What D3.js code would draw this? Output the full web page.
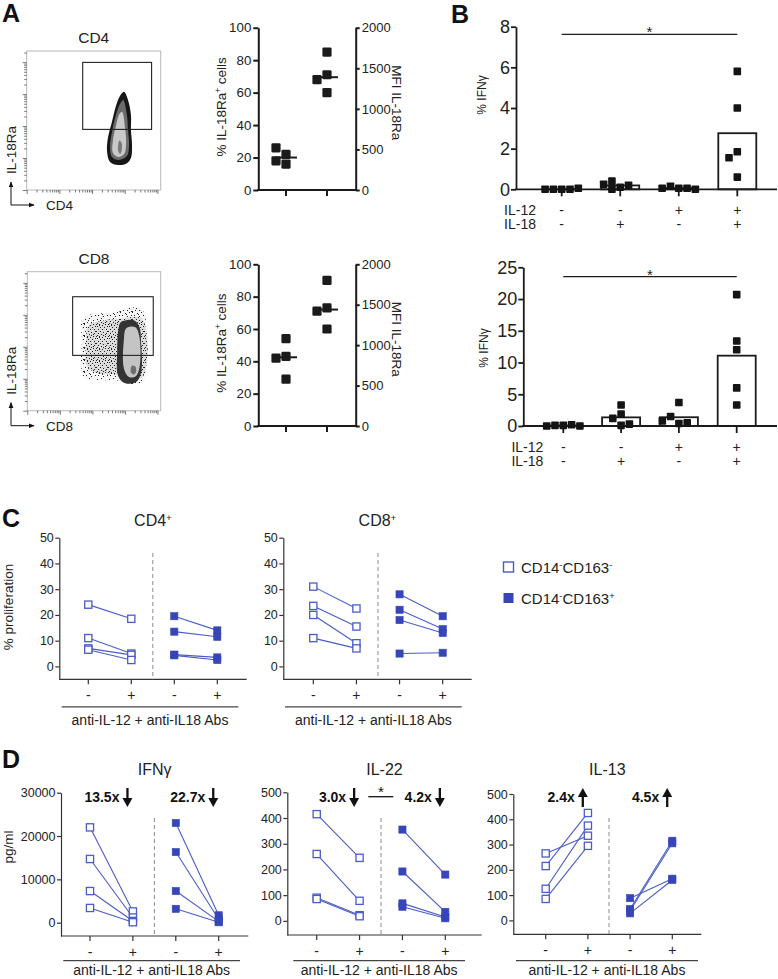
<!DOCTYPE html>
<html><head><meta charset="utf-8">
<script src="https://cdn.jsdelivr.net/npm/d3@7/dist/d3.min.js"></script>
<style>html,body{margin:0;padding:0;background:#fff}svg{display:block}</style>
</head><body>
<svg id="fig" width="778" height="979" xmlns="http://www.w3.org/2000/svg"></svg>
<script>
// ================= DATA =================
// Panel A – flow cytometry contours (axis units: decades 0..5)
const flowCD4Gate  = [2.09, 4.66, 2.18, 4.59];
const flowCD4Outer = [[3.63,3.53],[3.78,3.24],[3.89,2.70],[3.89,2.16],[3.93,1.62],[3.89,1.15],[3.71,0.94],[3.41,0.90],[3.11,1.01],[3.00,1.37],[3.03,1.87],[3.18,2.45],[3.33,3.02],[3.48,3.38]];
const flowCD4Mid   = [[3.60,3.24],[3.74,2.70],[3.78,2.16],[3.82,1.62],[3.74,1.22],[3.44,1.08],[3.18,1.19],[3.11,1.55],[3.18,2.09],[3.33,2.70],[3.48,3.09]];
const flowCD4Inner = [[3.56,2.81],[3.67,2.23],[3.71,1.62],[3.63,1.29],[3.41,1.19],[3.22,1.33],[3.22,1.80],[3.33,2.30],[3.44,2.70]];
const flowCD4Core  = [[3.46,1.78],[3.54,1.70],[3.55,1.45],[3.49,1.30],[3.42,1.38],[3.41,1.60]];
const flowCD8Gate  = [1.70, 4.72, 1.99, 4.10];
const flowCD8Cloud = [[2.05,3.26],[2.42,3.48],[2.91,3.51],[3.40,3.55],[3.77,3.70],[4.22,3.69],[4.41,3.44],[4.44,2.54],[4.44,1.47],[4.33,1.04],[3.85,0.96],[3.28,1.10],[2.72,1.10],[2.16,1.18],[2.01,1.64],[2.05,2.54]];
const flowCD8Dense = [[2.30,3.05],[2.90,3.25],[3.45,3.30],[4.30,3.30],[4.30,1.20],[3.30,1.30],[2.60,1.35],[2.25,1.60],[2.20,2.40]];
const flowCD8Outer = [[3.51,3.19],[3.97,3.26],[4.19,3.04],[4.27,2.36],[4.27,1.39],[4.08,1.03],[3.67,0.99],[3.41,1.24],[3.37,2.18],[3.41,2.90]];
const flowCD8Inner = [[3.71,2.97],[4.04,3.01],[4.19,2.72],[4.22,1.64],[4.07,1.24],[3.81,1.21],[3.62,1.53],[3.62,2.54]];
const flowCD8Core  = [[3.92,1.62],[4.04,1.60],[4.08,1.40],[3.98,1.30],[3.88,1.38]];

// Panel A – % IL-18Ra+ cells (left axis) / MFI (right axis)
const aCats = ["pct","mfi"];
const aCD4Pct = [22, 16, 26, 18];
const aCD4Mfi = [85, 71, 68, 60];
const aCD8Pct = [54, 43, 42, 29];
const aCD8Mfi = [90, 73, 71, 60];
const aLeftTicks  = [0, 20, 40, 60, 80, 100];
const aRightTicks = [0, 500, 1000, 1500, 2000];

// Panel B – % IFNγ
const bConds = ["c1","c2","c3","c4"];
const bIL12 = ["-","-","+","+"];
const bIL18 = ["-","+","-","+"];
const bTopVals = [[0,0,0,0,0.05],[0.1,0.4,0.2,0.25,0],[0.05,0.15,0.05,0.05,0],[5.8,4.0,1.85,1.55,0.6]];
const bBotVals = [[0.1,0.1,0.2,0,0],[0.1,3.3,1.2,1.9,0.3],[0.4,1.5,3.7,0.5,0.8],[20.7,13.4,12.0,6.0,3.3]];
const bTopTicks = [0, 2, 4, 6, 8];
const bBotTicks = [0, 5, 10, 15, 20, 25];

// Panel C – % proliferation
const cSigns = ["-","+","-","+"];
const cTicks = [0, 10, 20, 30, 40, 50];
const cCD4NegPre = [24, 11, 7, 6.5],   cCD4NegPost = [18.5, 5, 4.5, 2.5];
const cCD4PosPre = [19.5, 13.5, 4.6, 4.3], cCD4PosPost = [14, 11.5, 3.5, 2.5];
const cCD8NegPre = [31, 23.5, 20, 11], cCD8NegPost = [22.5, 15.5, 9, 7];
const cCD8PosPre = [28, 22, 18, 5],    cCD8PosPost = [19.5, 14.5, 13, 5.3];
const legendLabels = [["CD14","-","CD163","-"], ["CD14","-","CD163","+"]];

// Panel D – cytokines pg/ml
const dIFNgTicks = [0, 10000, 20000, 30000];
const dIL22Ticks = [0, 100, 200, 300, 400, 500];
const dIL13Ticks = [0, 100, 200, 300, 400, 500];
const dIFNgNegPre = [22000, 14700, 7300, 3400], dIFNgNegPost = [2600, 1200, 400, 100];
const dIFNgPosPre = [23000, 16300, 7300, 3200], dIFNgPosPost = [1700, 800, 300, 100];
const dIL22NegPre = [415, 260, 90, 85],  dIL22NegPost = [245, 78, 22, 18];
const dIL22PosPre = [355, 192, 68, 55],  dIL22PosPost = [180, 35, 15, 10];
const dIL13NegPre = [265, 215, 125, 85], dIL13NegPost = [335, 425, 375, 295];
const dIL13PosPre = [88, 45, 38, 28],    dIL13PosPost = [165, 315, 305, 160];
const dIFNgFolds = ["13.5x","22.7x"], dIFNgDir = ["down","down"];
const dIL22Folds = ["3.0x","4.2x"],   dIL22Dir = ["down","down"];
const dIL13Folds = ["2.4x","4.5x"],   dIL13Dir = ["up","up"];

// ================= DRAWING =================
const FONT = '"Liberation Sans", Arial, Helvetica, sans-serif';
const INK = "#1b1b1b", TXT = "#222", BLUE = "#3646b8", BLUE_L = "#4a5cc9";
const fmt = d3.format("d");
const svg = d3.select("#fig").attr("font-family", FONT);

const defs = svg.append("defs");
defs.append("marker").attr("id","arr").attr("viewBox","0 0 10 10").attr("refX",9).attr("refY",5)
  .attr("markerWidth",6).attr("markerHeight",6).attr("orient","auto")
  .append("path").attr("d","M0,1 L10,5 L0,9 z").attr("fill","#111");
function stipple(id, bg, dots, w) {
  const p = defs.append("pattern").attr("id", id).attr("patternUnits","userSpaceOnUse").attr("width",w).attr("height",w);
  p.append("rect").attr("width",w).attr("height",w).attr("fill",bg);
  dots.forEach(d => p.append("rect").attr("x",d[0]).attr("y",d[1]).attr("width",1).attr("height",1).attr("fill","#262626"));
}
stipple("stipA", "#f4f4f4", [[0,0],[5,1],[9,0],[2,3],[7,4],[11,3],[1,7],[5,6],[9,8],[3,10],[7,10],[11,11],[0,11],[6,2],[4,8]], 12);
stipple("stipB", "#dcdcdc", [[0,0],[3,0],[6,1],[9,0],[1,2],[4,3],[8,3],[11,2],[2,5],[6,5],[10,5],[0,7],[4,7],[7,8],[11,7],[2,9],[5,10],[9,10],[1,11],[7,11],[10,9],[3,1]], 12);

function text(g, x, y, s, o = {}) {
  return g.append("text").attr("x", x).attr("y", y).text(s)
    .attr("font-size", o.size || 13).attr("fill", o.fill || TXT)
    .attr("text-anchor", o.anchor || "start").attr("font-weight", o.weight || "normal");
}
function richText(g, parts, o) {
  const t = g.append("text").attr("font-size", o.size).attr("fill", TXT).attr("text-anchor", o.anchor || "start");
  if (o.transform) t.attr("transform", o.transform); else t.attr("x", o.x).attr("y", o.y);
  parts.forEach(([s, sup]) => {
    const ts = t.append("tspan").text(s);
    if (sup) ts.attr("baseline-shift", "super").attr("font-size", "0.62em");
  });
  return t;
}
function swarm(vals, y, size, step) {
  const placed = [];
  return vals.map(v => {
    const py = y(v);
    const offs = [0];
    for (let k = 1; k < 7; k++) offs.push(-k * step, k * step);
    for (const o of offs) {
      if (!placed.some(p => Math.abs(p.dx - o) < size && Math.abs(p.py - py) < size)) {
        placed.push({dx: o, py}); return {v, dx: o, py};
      }
    }
    return {v, dx: 0, py};
  });
}
function styleAxis(a, color, w, fs) {
  a.attr("font-family", FONT).attr("font-size", fs);
  a.selectAll(".domain").attr("stroke", color).attr("stroke-width", w);
  a.selectAll(".tick line").attr("stroke", color).attr("stroke-width", w);
  a.selectAll(".tick text").attr("fill", TXT);
}

// Panel letters
[["A",2,22],["B",451,23],["C",2,527],["D",2,768]].forEach(([s,x,y]) =>
  text(svg, x, y, s, {size: 25, weight: "bold", fill: "#111"}));

// ---------- Panel A flow plots ----------
function flowPlot(o) {
  const g = svg.append("g");
  const xs = d3.scaleLinear().domain([0,5]).range([o.x0, o.x1]);
  const ys = d3.scaleLinear().domain([0,5]).range([o.y1, o.y0]);
  const line = d3.line().x(d => xs(d[0])).y(d => ys(d[1])).curve(d3.curveCatmullRomClosed);
  o.layers.forEach(l => g.append("path").attr("d", line(l.pts)).attr("fill", l.fill));
  g.append("rect").attr("x", xs(o.gate[0])).attr("y", ys(o.gate[3]))
    .attr("width", xs(o.gate[1]) - xs(o.gate[0])).attr("height", ys(o.gate[2]) - ys(o.gate[3]))
    .attr("fill","none").attr("stroke","#222").attr("stroke-width",1.1);
  g.append("rect").attr("x", o.x0).attr("y", o.y0).attr("width", o.x1 - o.x0).attr("height", o.y1 - o.y0)
    .attr("fill","none").attr("stroke","#b8b8b8").attr("stroke-width",1);
  const ly = d3.scaleLog().domain([1, Math.pow(10,4.35)]).range([o.y1, o.y0]);
  const lx = d3.scaleLog().domain([1, Math.pow(10,4.1)]).range([o.x0, o.x1]);
  const p10 = d => Math.abs(Math.log10(d) - Math.round(Math.log10(d))) < 1e-6;
  const ay = g.append("g").attr("transform", `translate(${o.x0},0)`)
    .call(d3.axisLeft(ly).tickSize(2.5).tickFormat("").tickSizeOuter(0));
  ay.select(".domain").remove();
  ay.selectAll(".tick line").attr("stroke","#555").attr("stroke-width",0.8).attr("x2", d => p10(d) ? -4 : -2.5);
  const ax = g.append("g").attr("transform", `translate(0,${o.y1})`)
    .call(d3.axisBottom(lx).tickSize(2.5).tickFormat("").tickSizeOuter(0));
  ax.select(".domain").remove();
  ax.selectAll(".tick line").attr("stroke","#555").attr("stroke-width",0.8).attr("y2", d => p10(d) ? 4 : 2.5);
  text(g, (o.x0 + o.x1) / 2, o.y0 - 8, o.title, {size: 15.5, anchor: "middle"});
  const ay0 = o.y1 + 15;
  g.append("line").attr("x1", 11).attr("y1", ay0).attr("x2", 11).attr("y2", ay0 - 23)
    .attr("stroke","#111").attr("stroke-width",1).attr("marker-end","url(#arr)");
  g.append("line").attr("x1", 11).attr("y1", ay0).attr("x2", 34).attr("y2", ay0)
    .attr("stroke","#111").attr("stroke-width",1).attr("marker-end","url(#arr)");
  g.append("text").attr("transform", `translate(16,${o.y1 - 40}) rotate(-90)`).attr("text-anchor","middle")
    .attr("font-size",13.5).attr("fill",TXT).text("IL-18Ra");
  text(g, 46, ay0 + 5, o.xlab, {size: 13.5});
}
flowPlot({x0: 26.7, x1: 160.7, y0: 51, y1: 190, title: "CD4", xlab: "CD4", gate: flowCD4Gate,
  layers: [{pts: flowCD4Outer, fill: "#161616"}, {pts: flowCD4Mid, fill: "#6b6b6b"},
           {pts: flowCD4Inner, fill: "#c9c9c9"}, {pts: flowCD4Core, fill: "#7a7a7a"}]});
flowPlot({x0: 27.3, x1: 160.7, y0: 271.7, y1: 410.7, title: "CD8", xlab: "CD8", gate: flowCD8Gate,
  layers: [{pts: flowCD8Cloud, fill: "url(#stipA)"}, {pts: flowCD8Dense, fill: "url(#stipB)"},
           {pts: flowCD8Outer, fill: "#333"}, {pts: flowCD8Inner, fill: "#c4c4c4"}, {pts: flowCD8Core, fill: "#6e6e6e"}]});

// ---------- Panel A scatter ----------
function scatterA(o) {
  const g = svg.append("g");
  const xL = 258.3, xR = 355.7;
  const yL = d3.scaleLinear().domain([0,100]).range([o.yBot, o.yTop]);
  const yR = d3.scaleLinear().domain([0,2000]).range([o.yBot, o.yTop]);
  const x = d3.scalePoint().domain(aCats).range([286, 327]);
  const al = g.append("g").attr("transform", `translate(${xL},0)`)
    .call(d3.axisLeft(yL).tickValues(aLeftTicks).tickFormat(fmt).tickSize(5).tickPadding(2).tickSizeOuter(0));
  styleAxis(al, INK, 2, 13.3);
  const ar = g.append("g").attr("transform", `translate(${xR},0)`)
    .call(d3.axisRight(yR).tickValues(aRightTicks).tickFormat(fmt).tickSize(4).tickPadding(2).tickSizeOuter(0));
  styleAxis(ar, INK, 2, 13);
  g.append("line").attr("x1", xL - 1).attr("x2", xR + 1).attr("y1", o.yBot).attr("y2", o.yBot)
    .attr("stroke", INK).attr("stroke-width", 2);
  aCats.forEach(c => g.append("line").attr("x1", x(c)).attr("x2", x(c)).attr("y1", o.yBot).attr("y2", o.yBot + 6)
    .attr("stroke", INK).attr("stroke-width", 2));
  o.groups.forEach((vals, i) => {
    const cx = x(aCats[i]);
    const med = d3.median(vals);
    swarm(vals, yL, 9.5, 10).forEach(p => g.append("rect").attr("x", cx + p.dx - 4.6).attr("y", p.py - 4.6)
      .attr("width", 9.2).attr("height", 9.2).attr("rx", 1.3).attr("fill", INK));
    g.append("line").attr("x1", cx - 11).attr("x2", cx + 11).attr("y1", yL(med)).attr("y2", yL(med))
      .attr("stroke", INK).attr("stroke-width", 2);
  });
  richText(g, [["% IL-18Ra"],["+",1],[" cells"]], {size: 13.5, anchor: "middle",
    transform: `translate(226,${(o.yBot + o.yTop) / 2 - 2}) rotate(-90)`});
  g.append("text").attr("transform", `translate(392,${(o.yBot + o.yTop) / 2 - 6}) rotate(90)`)
    .attr("text-anchor","middle").attr("font-size",13.5).attr("fill",TXT).text("MFI  IL-18Ra");
}
scatterA({yTop: 27.7, yBot: 190, groups: [aCD4Pct, aCD4Mfi]});
scatterA({yTop: 264.3, yBot: 426, groups: [aCD8Pct, aCD8Mfi]});

// ---------- Panel B ----------
function barPanel(o) {
  const g = svg.append("g");
  const y = d3.scaleLinear().domain([0, o.max]).range([o.axisY, o.yTop]);
  const x = d3.scalePoint().domain(bConds).range([o.c0, o.c1]);
  const ya = g.append("g").attr("transform", `translate(${o.axisX},0)`)
    .call(d3.axisLeft(y).tickValues(o.ticks).tickFormat(fmt).tickSize(5).tickPadding(1).tickSizeOuter(0));
  styleAxis(ya, INK, 1.8, 18);
  o.vals.forEach((vals, i) => {
    const m = d3.mean(vals);
    g.append("rect").attr("x", x(bConds[i]) - 19).attr("y", y(m)).attr("width", 38).attr("height", o.axisY - y(m))
      .attr("fill", "#fff").attr("stroke", INK).attr("stroke-width", 1.8);
  });
  g.append("line").attr("x1", o.axisX - 1).attr("x2", o.xEnd).attr("y1", o.axisY).attr("y2", o.axisY)
    .attr("stroke", INK).attr("stroke-width", 1.8);
  bConds.forEach(c => g.append("line").attr("x1", x(c)).attr("x2", x(c)).attr("y1", o.axisY).attr("y2", o.axisY + 7)
    .attr("stroke", INK).attr("stroke-width", 1.8));
  o.vals.forEach((vals, i) => {
    swarm(vals, y, 7.6, 8.3).forEach(p => g.append("rect").attr("x", x(bConds[i]) + p.dx - 3.8).attr("y", p.py - 3.8)
      .attr("width", 7.6).attr("height", 7.6).attr("rx", 0.8).attr("fill", "#141414"));
  });
  g.append("line").attr("x1", x(bConds[0])).attr("x2", x(bConds[3])).attr("y1", o.sigY).attr("y2", o.sigY)
    .attr("stroke", INK).attr("stroke-width", 1.3);
  text(g, (x(bConds[0]) + x(bConds[3])) / 2, o.sigY + 3, "*", {size: 15, anchor: "middle"});
  text(g, o.axisX + 20, o.axisY + 25.5, "IL-12", {size: 14, anchor: "end"});
  text(g, o.axisX + 20, o.axisY + 40, "IL-18", {size: 14, anchor: "end"});
  bConds.forEach((c, i) => {
    text(g, x(c), o.axisY + 25.5, bIL12[i], {size: 14, anchor: "middle"});
    text(g, x(c), o.axisY + 40, bIL18[i], {size: 14, anchor: "middle"});
  });
  g.append("text").attr("transform", `translate(${o.labX},${o.labY}) rotate(-90)`).attr("text-anchor","middle")
    .attr("font-size",12).attr("fill",TXT).text("% IFNγ");
}
barPanel({axisX: 516, xEnd: 777, axisY: 189.3, yTop: 26.7, max: 8, ticks: bTopTicks, c0: 561.7, c1: 737.3,
  vals: bTopVals, sigY: 34.3, labX: 486, labY: 95});
barPanel({axisX: 523.3, xEnd: 777, axisY: 426, yTop: 267.3, max: 25, ticks: bBotTicks, c0: 563.3, c1: 736.7,
  vals: bBotVals, sigY: 276.7, labX: 488, labY: 348});

// ---------- Panels C & D (paired plots) ----------
function pairedPanel(o) {
  const g = svg.append("g");
  const y = d3.scaleLinear().domain(o.yDomain).range([o.axisY, o.yTop]);
  const x = d3.scalePoint().domain([0,1,2,3]).range([o.c0, o.c1]);
  const ya = g.append("g").attr("transform", `translate(${o.axisX},0)`)
    .call(d3.axisLeft(y).tickValues(o.ticks).tickFormat(fmt).tickSize(4).tickPadding(1.5).tickSizeOuter(0));
  styleAxis(ya, "#333", 1.2, o.tickFont || 12.5);
  g.append("line").attr("x1", o.axisX).attr("x2", o.xEnd).attr("y1", o.axisY).attr("y2", o.axisY)
    .attr("stroke", "#333").attr("stroke-width", 1.2);
  [0,1,2,3].forEach(i => {
    g.append("line").attr("x1", x(i)).attr("x2", x(i)).attr("y1", o.axisY).attr("y2", o.axisY + 5)
      .attr("stroke", "#333").attr("stroke-width", 1.2);
    text(g, x(i), o.axisY + 20.5, cSigns[i], {size: 14, anchor: "middle"});
  });
  const dx = (x(1) + x(2)) / 2;
  g.append("line").attr("x1", dx).attr("x2", dx).attr("y1", o.dashTop).attr("y2", o.axisY)
    .attr("stroke", "#8a8a8a").attr("stroke-width", 1).attr("stroke-dasharray", "4,3");
  const pairs = [[o.negPre, o.negPost, 0, false], [o.posPre, o.posPost, 2, true]];
  pairs.forEach(([pre, post, c]) => {
    pre.forEach((v, i) => g.append("line").attr("x1", x(c)).attr("y1", y(v)).attr("x2", x(c + 1)).attr("y2", y(post[i]))
      .attr("stroke", BLUE_L).attr("stroke-width", 1.1));
  });
  pairs.forEach(([pre, post, c, filled]) => {
    [[pre, c], [post, c + 1]].forEach(([vals, ci]) => vals.forEach(v => {
      const r = g.append("rect").attr("x", x(ci) - 3.6).attr("y", y(v) - 3.6).attr("width", 7.2).attr("height", 7.2);
      if (filled) r.attr("fill", BLUE).attr("stroke", BLUE).attr("stroke-width", 0.6);
      else r.attr("fill", "#fff").attr("stroke", BLUE_L).attr("stroke-width", 1.3);
    }));
  });
  richText(g, o.title, {size: 16, anchor: "middle", x: (o.axisX + o.xEnd) / 2, y: o.titleY});
  g.append("line").attr("x1", o.bx0).attr("x2", o.bx1).attr("y1", o.axisY + o.brOff).attr("y2", o.axisY + o.brOff)
    .attr("stroke", "#444").attr("stroke-width", 1.2);
  text(g, (o.bx0 + o.bx1) / 2, o.axisY + o.txOff, "anti-IL-12 + anti-IL18 Abs", {size: 14, anchor: "middle"});
  if (o.ylab) g.append("text").attr("transform", `translate(13,${o.labY}) rotate(-90)`).attr("text-anchor","middle")
    .attr("font-size", 13.5).attr("fill", TXT).text(o.ylab);
  if (o.folds) {
    o.folds.forEach((f, k) => {
      const cx = (x(2 * k) + x(2 * k + 1)) / 2;
      const axp = cx + 16;
      text(g, axp - 8, 802, f, {size: 14, weight: "bold", anchor: "end", fill: "#111"});
      if (o.dirs[k] === "down") {
        g.append("line").attr("x1", axp).attr("x2", axp).attr("y1", 788).attr("y2", 800).attr("stroke","#111").attr("stroke-width",2.3);
        g.append("path").attr("d", `M${axp - 5},798 L${axp + 5},798 L${axp},807 Z`).attr("fill","#111");
      } else {
        g.append("line").attr("x1", axp).attr("x2", axp).attr("y1", 795).attr("y2", 807).attr("stroke","#111").attr("stroke-width",2.3);
        g.append("path").attr("d", `M${axp - 5},797 L${axp + 5},797 L${axp},788 Z`).attr("fill","#111");
      }
    });
  }
  return {g, x, y};
}

// Panel C
pairedPanel({axisX: 59.3, xEnd: 246.7, axisY: 679.3, yTop: 537.7, yDomain: [-5, 50], ticks: cTicks,
  c0: 88.3, c1: 217.3, dashTop: 553, negPre: cCD4NegPre, negPost: cCD4NegPost, posPre: cCD4PosPre, posPost: cCD4PosPost,
  title: [["CD4"],["+",1]], titleY: 525.5, bx0: 61.7, bx1: 238.3, brOff: 27.5, txOff: 45.5, ylab: "% proliferation", labY: 607});
pairedPanel({axisX: 283.3, xEnd: 471.7, axisY: 679.3, yTop: 537.7, yDomain: [-5, 50], ticks: cTicks,
  c0: 313.3, c1: 442.7, dashTop: 553, negPre: cCD8NegPre, negPost: cCD8NegPost, posPre: cCD8PosPre, posPost: cCD8PosPost,
  title: [["CD8"],["+",1]], titleY: 525.5, bx0: 285, bx1: 461.7, brOff: 27.5, txOff: 45.5});

// Legend
legendLabels.forEach((parts, i) => {
  const yy = 562 + i * 31;
  const r = svg.append("rect").attr("x", 503.5).attr("y", yy).attr("width", 10).attr("height", 10);
  if (i === 0) r.attr("fill", "#fff").attr("stroke", BLUE_L).attr("stroke-width", 1.4);
  else r.attr("fill", BLUE);
  richText(svg, [[parts[0]], [parts[1], 1], [parts[2]], [parts[3], 1]], {size: 15, x: 521, y: yy + 10.5});
});

// Panel D
pairedPanel({axisX: 61, xEnd: 248.3, axisY: 936, yTop: 792.7, yDomain: [-3070, 30000], ticks: dIFNgTicks,
  c0: 90, c1: 218.7, dashTop: 818, negPre: dIFNgNegPre, negPost: dIFNgNegPost, posPre: dIFNgPosPre, posPost: dIFNgPosPost,
  title: [["IFNγ"]], titleY: 775, bx0: 63.3, bx1: 240, brOff: 24.7, txOff: 39, ylab: "pg/ml", labY: 847, folds: dIFNgFolds, dirs: dIFNgDir});
const il22 = pairedPanel({axisX: 287.3, xEnd: 481.7, axisY: 935, yTop: 792.3, yDomain: [-55, 500], ticks: dIL22Ticks,
  c0: 316.7, c1: 445.3, dashTop: 818, negPre: dIL22NegPre, negPost: dIL22NegPost, posPre: dIL22PosPre, posPost: dIL22PosPost,
  title: [["IL-22"]], titleY: 775, bx0: 293.3, bx1: 465, brOff: 25.7, txOff: 40, folds: dIL22Folds, dirs: dIL22Dir});
il22.g.append("line").attr("x1", 368.3).attr("x2", 393.3).attr("y1", 796.7).attr("y2", 796.7).attr("stroke","#111").attr("stroke-width",1.3);
text(il22.g, 380.8, 797, "*", {size: 15, anchor: "middle", fill: "#111"});
pairedPanel({axisX: 513.3, xEnd: 701.3, axisY: 934.3, yTop: 794, yDomain: [-55, 500], ticks: dIL13Ticks,
  c0: 545.7, c1: 672.3, dashTop: 818, negPre: dIL13NegPre, negPost: dIL13NegPost, posPre: dIL13PosPre, posPost: dIL13PosPost,
  title: [["IL-13"]], titleY: 775, bx0: 516, bx1: 698, brOff: 26.4, txOff: 40.7, folds: dIL13Folds, dirs: dIL13Dir});
</script>
</body></html>
